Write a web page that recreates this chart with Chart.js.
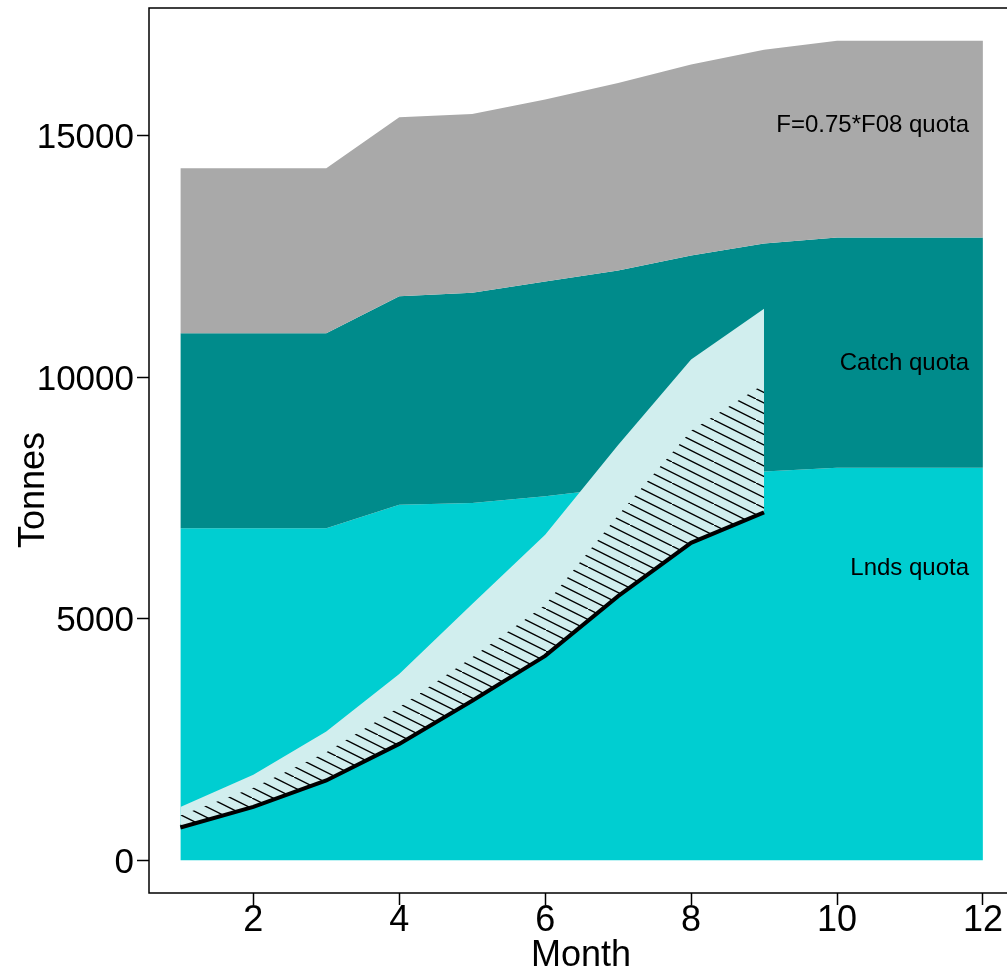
<!DOCTYPE html>
<html>
<head>
<meta charset="utf-8">
<script src="https://cdn.jsdelivr.net/npm/chart.js@4"></script>
<style>
  html, body { margin: 0; padding: 0; background: #fff; overflow: hidden; }
  #wrap { width: 1007px; height: 972px; }
</style>
</head>
<body>
<div id="wrap"><canvas id="quota-chart" width="1007" height="972"></canvas></div>
<script>
// Quota areas, by month
const months = [1, 2, 3, 4, 5, 6, 7, 8, 9, 10, 11, 12];
const fQuota = [14324, 14324, 14324, 15376, 15444, 15745, 16089, 16469, 16778, 16964, 16964, 16964];
const catchQuota = [10906, 10906, 10906, 11675, 11745, 11978, 12207, 12516, 12763, 12887, 12887, 12887];
const lndsQuota = [6869, 6869, 6869, 7358, 7393, 7533, 7709, 7875, 8045, 8121, 8121, 8121];

// Cumulative landings and the two upper bands (months 1-9)
const landMonths = [1, 2, 3, 4, 5, 6, 7, 8, 9];
const landings = [676, 1101, 1650, 2407, 3300, 4229, 5466, 6568, 7199];
const upperBand = [1101, 1768, 2661, 3851, 5300, 6738, 8596, 10363, 11415];
const hatchBand = [925, 1500, 2236, 3165, 4200, 5280, 7141, 8891, 9855];

// Axis ticks
const monthTicks = [2, 4, 6, 8, 10, 12];
const tonneTicks = [0, 5000, 10000, 15000];

// Area labels (text, y value)
const areaLabels = ['F=0.75*F08 quota', 'Catch quota', 'Lnds quota'];
const areaLabelY = [15217, 10283, 6035];

const FONT = "'Liberation Sans', Arial, sans-serif";

function pts(xs, ys) {
    return xs.map((x, i) => ({ x: x, y: ys[i] }));
}

function makeHatch() {
    const c = document.createElement('canvas');
    c.width = 42;
    c.height = 21;
    const g = c.getContext('2d');
    g.strokeStyle = '#000';
    g.lineWidth = 1.4;
    const segs = [[-4, -2, 46, 23], [-4, 8.5, 25, 23], [17, -2, 46, 12.5]];
    segs.forEach(s => {
        g.beginPath();
        g.moveTo(s[0], s[1]);
        g.lineTo(s[2], s[3]);
        g.stroke();
    });
    return g.createPattern(c, 'repeat');
}

function area(data, color, fill, order) {
    return {
        data: data,
        backgroundColor: color,
        borderColor: 'rgba(0,0,0,0)',
        borderWidth: 0,
        pointRadius: 0,
        tension: 0,
        fill: fill,
        order: order
    };
}

// box around plot + axis titles + area labels
const decorPlugin = {
    id: 'decor',
    afterDraw(chart) {
        const ctx = chart.ctx;
        const a = chart.chartArea;
        const xs = chart.scales.x;
        const ys = chart.scales.y;
        ctx.save();
        ctx.strokeStyle = '#000';
        ctx.lineWidth = 1.5;
        ctx.beginPath();
        ctx.moveTo(chart.width + 2, a.top);
        ctx.lineTo(a.left, a.top);
        ctx.lineTo(a.left, a.bottom);
        ctx.lineTo(chart.width + 2, a.bottom);
        ctx.stroke();

        ctx.fillStyle = '#000';
        ctx.font = '24px ' + FONT;
        ctx.textAlign = 'right';
        ctx.textBaseline = 'middle';
        areaLabels.forEach((t, i) => {
            ctx.fillText(t, xs.getPixelForValue(11.81), ys.getPixelForValue(areaLabelY[i]));
        });

        ctx.font = '36px ' + FONT;
        ctx.textAlign = 'center';
        ctx.textBaseline = 'alphabetic';
        ctx.fillText('Month', 581, 966);

        ctx.translate(44, 490);
        ctx.rotate(-Math.PI / 2);
        ctx.fillText('Tonnes', 0, 0);
        ctx.restore();
    }
};

const ctx = document.getElementById('quota-chart');

new Chart(ctx, {
    type: 'line',
    data: {
        datasets: [
            area(pts(months, lndsQuota), '#00CED1', 'origin', 7),
            area(pts(months, catchQuota), '#008B8B', 0, 6),
            area(pts(months, fQuota), '#A9A9A9', 1, 5),
            {
                data: pts(landMonths, landings),
                borderColor: '#000',
                borderWidth: 4,
                pointRadius: 0,
                tension: 0,
                fill: false,
                order: 0
            },
            area(pts(landMonths, upperBand), '#D1EEEE', 3, 3),
            area(pts(landMonths, hatchBand), makeHatch(), 3, 2)
        ]
    },
    options: {
        responsive: false,
        animation: false,
        layout: { padding: { top: 8, right: 0, left: 0, bottom: 0 } },
        plugins: {
            legend: { display: false },
            tooltip: { enabled: false },
            filler: { propagate: false }
        },
        scales: {
            x: {
                type: 'linear',
                min: 0.57,
                max: 12.33,
                afterBuildTicks: scale => { scale.ticks = monthTicks.map(v => ({ value: v })); },
                afterFit: scale => {
                    scale.height = 79;
                    scale.paddingLeft = 0;
                    scale.paddingRight = 0;
                },
                ticks: {
                    color: '#000',
                    maxRotation: 0,
                    padding: 0,
                    callback: v => String(v),
                    font: { family: FONT, size: 36, lineHeight: 0.9 }
                },
                grid: {
                    display: true,
                    drawOnChartArea: false,
                    drawTicks: true,
                    tickLength: 12,
                    tickColor: '#000',
                    tickWidth: 1.5
                },
                border: { display: false }
            },
            y: {
                type: 'linear',
                min: -680,
                max: 17640,
                afterBuildTicks: scale => { scale.ticks = tonneTicks.map(v => ({ value: v })); },
                afterFit: scale => {
                    scale.width = 149;
                    scale.paddingTop = 0;
                    scale.paddingBottom = 0;
                },
                ticks: {
                    color: '#000',
                    padding: 3,
                    labelOffset: 3,
                    callback: v => String(v),
                    font: { family: FONT, size: 35 }
                },
                grid: {
                    display: true,
                    drawOnChartArea: false,
                    drawTicks: true,
                    tickLength: 12,
                    tickColor: '#000',
                    tickWidth: 1.5
                },
                border: { display: false }
            }
        }
    },
    plugins: [decorPlugin]
});
</script>
</body>
</html>
